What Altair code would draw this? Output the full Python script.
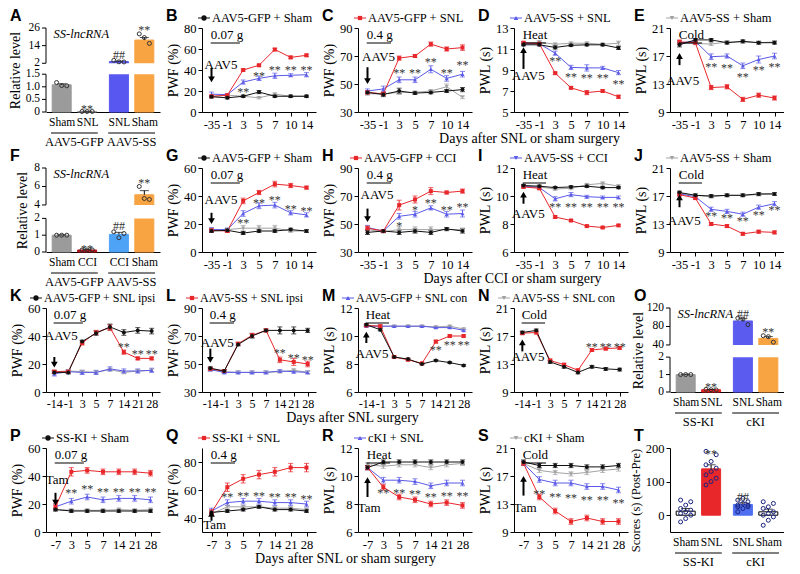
import altair as alt
import pandas as pd

SERIF = "Liberation Serif"
SANS = "Liberation Sans"
W, H = 114, 84

# ---------------- x categories ----------------
DAYS_AAV = ["-35", "-1", "3", "5", "7", "10", "14"]
DAYS_IPSI = ["-14", "-1", "3", "5", "7", "14", "21", "28"]
DAYS_TAM = ["-7", "3", "5", "7", "14", "21", "28"]

# series keys: k = black, r = red, b = blue, g = gray
ROW1_NAMES = {"k": "AAV5-GFP + Sham", "r": "AAV5-GFP + SNL", "b": "AAV5-SS + SNL", "g": "AAV5-SS + Sham"}
ROW2_NAMES = {"k": "AAV5-GFP + Sham", "r": "AAV5-GFP + CCI", "b": "AAV5-SS + CCI", "g": "AAV5-SS + Sham"}
ROW3_NAMES = {"k": "AAV5-GFP + SNL ipsi", "r": "AAV5-SS + SNL ipsi", "b": "AAV5-GFP + SNL con", "g": "AAV5-SS + SNL con"}
ROW4_NAMES = {"k": "SS-KI + Sham", "r": "SS-KI + SNL", "b": "cKI + SNL", "g": "cKI + Sham"}

# ---------------- panel B ----------------
B_mean = {"k": [14.5, 13.5, 15, 19, 15, 15, 15], "r": [15, 16, 40, 44.5, 59.5, 52, 54],
          "b": [17, 16.5, 28.5, 32, 34.5, 35, 35.5], "g": [14.5, 16, 15, 13.5, 17, 15, 15]}
B_sem = {"k": [1, 1, 1, 1.5, 1, 1, 1], "r": [1, 1, 1, 1, 1.2, 1.2, 1.2],
         "b": [2, 1, 2, 2, 2.5, 1.5, 2], "g": [1, 1, 1, 1, 1, 1, 1]}
B_stars = [(2, 22, "**"), (3, 37, "**"), (4, 43, "**"), (5, 43, "**"), (6, 43, "**")]
# ---------------- panel C ----------------
C_mean = {"k": [44, 42.5, 45, 43.5, 44, 45, 46], "r": [44, 43, 68.5, 70, 78.5, 75, 76],
          "b": [45, 46.5, 53, 53, 60.5, 54, 57], "g": [43, 43, 44, 44, 45, 48, 40.5]}
C_sem = {"k": [1, 1.5, 2, 1, 1, 1, 1.5], "r": [1, 1, 1.5, 1, 1.5, 1.5, 2],
         "b": [1.5, 2, 2, 2, 2.5, 2, 2], "g": [1, 1, 1, 1, 1, 2, 1]}
C_stars = [(2, 60, "**"), (3, 60, "**"), (4, 68, "**"), (5, 60, "**"), (6, 66, "**")]
# ---------------- panel D ----------------
D_mean = {"k": [11.4, 11.4, 11.15, 11.35, 11.4, 11.4, 11.1], "r": [11.6, 11.5, 8.7, 7.3, 6.85, 7.0, 6.45],
          "b": [11.5, 11.5, 10.6, 9.25, 9.2, 9.2, 8.75], "g": [11.55, 11.65, 11.45, 11.55, 11.55, 11.45, 11.55]}
D_sem = {"k": [0.1, 0.1, 0.15, 0.1, 0.1, 0.1, 0.15], "r": [0.1, 0.1, 0.1, 0.1, 0.2, 0.1, 0.15],
         "b": [0.15, 0.15, 0.2, 0.2, 0.3, 0.15, 0.2], "g": [0.1, 0.15, 0.1, 0.1, 0.1, 0.1, 0.2]}
D_stars = [(2, 10.1, "**"), (3, 8.6, "**"), (4, 8.5, "**"), (5, 8.5, "**"), (6, 8.0, "**")]
# ---------------- panel E ----------------
E_mean = {"k": [18.6, 19.3, 19.3, 18.9, 19.1, 18.9, 18.9], "r": [19.0, 18.9, 12.5, 12.6, 10.8, 11.4, 11.0],
          "b": [18.9, 19.1, 16.9, 17.0, 15.6, 16.5, 17.0], "g": [18.9, 18.8, 18.7, 19.0, 19.0, 18.9, 19.0]}
E_sem = {"k": [0.3, 0.2, 0.2, 0.2, 0.2, 0.2, 0.2], "r": [0.3, 0.2, 0.3, 0.3, 0.3, 0.3, 0.3],
         "b": [0.3, 0.3, 0.4, 0.3, 0.4, 0.5, 0.4], "g": [0.2, 0.2, 0.2, 0.2, 0.2, 0.2, 0.2]}
E_stars = [(2, 15.8, "**"), (3, 15.7, "**"), (4, 14.5, "**"), (5, 15.4, "**"), (6, 15.8, "**")]
# ---------------- panel G ----------------
G_mean = {"k": [15, 15.5, 13.5, 15, 15, 16, 15], "r": [15.5, 15, 36.5, 42.5, 48.5, 47.5, 46],
          "b": [16, 16, 27.5, 33, 33.5, 28, 26.5], "g": [16, 16, 17, 17, 17, 15, 15]}
G_sem = {"k": [1, 1, 1, 1, 1, 1, 1], "r": [1, 1, 2, 1.5, 2, 1.5, 1],
         "b": [1.5, 1, 2, 2, 2, 1.5, 1.5], "g": [1, 1, 2, 2, 2, 1, 1]}
G_stars = [(2, 23, "**"), (3, 37, "**"), (4, 39.5, "**"), (5, 33, "**"), (6, 31.5, "**")]
# ---------------- panel H ----------------
H_mean = {"k": [44, 45, 44, 45, 44, 46.5, 45], "r": [47, 45, 63.5, 67.5, 73.5, 72.5, 73.5],
          "b": [47.5, 45, 55.5, 57, 61.5, 57, 57.5], "g": [46, 44.5, 46, 46, 46, 46, 46]}
H_sem = {"k": [1.5, 1, 1.5, 1.5, 1.5, 1, 1.5], "r": [1.5, 1, 3.5, 2.5, 2.5, 1, 1.5],
         "b": [1.5, 1, 2, 2, 1.5, 2, 2.5], "g": [1, 1, 2, 2, 2, 1, 1]}
H_stars = [(2, 51, "*"), (3, 62.5, "*"), (4, 67, "**"), (5, 62.5, "**"), (6, 64, "**")]
# ---------------- panel I ----------------
I_mean = {"k": [10.75, 10.7, 10.6, 10.65, 10.7, 10.6, 10.6], "r": [10.65, 10.55, 8.5, 8.25, 7.85, 7.75, 7.9],
          "b": [10.7, 10.6, 9.8, 10.1, 9.95, 9.9, 9.9], "g": [10.7, 10.65, 10.5, 10.55, 10.8, 10.9, 10.7]}
I_sem = {"k": [0.08, 0.08, 0.08, 0.08, 0.08, 0.08, 0.08], "r": [0.08, 0.08, 0.08, 0.06, 0.06, 0.06, 0.06],
         "b": [0.1, 0.1, 0.15, 0.15, 0.1, 0.1, 0.1], "g": [0.08, 0.08, 0.1, 0.1, 0.1, 0.1, 0.1]}
I_stars = [(2, 9.45, "**"), (3, 9.45, "**"), (4, 9.45, "**"), (5, 9.45, "**"), (6, 9.45, "**")]
# ---------------- panel J ----------------
J_mean = {"k": [17.5, 17.1, 17.0, 17.1, 17.1, 17.3, 17.3], "r": [17.2, 16.7, 13.0, 12.7, 11.6, 11.9, 11.8],
          "b": [17.3, 16.9, 15.1, 14.8, 14.4, 15.4, 15.9], "g": [17.4, 17.1, 16.9, 17.1, 17.1, 17.2, 17.3]}
J_sem = {"k": [0.2, 0.2, 0.2, 0.2, 0.2, 0.2, 0.2], "r": [0.2, 0.2, 0.2, 0.2, 0.2, 0.2, 0.2],
         "b": [0.2, 0.2, 0.3, 0.3, 0.3, 0.3, 0.3], "g": [0.2, 0.2, 0.2, 0.2, 0.2, 0.2, 0.2]}
J_stars = [(2, 14.6, "**"), (3, 14.3, "**"), (4, 13.9, "**"), (5, 14.7, "**"), (6, 15.5, "**")]
# ---------------- panel K ----------------
K_mean = {"k": [14, 14, 36, 42, 46.5, 42.5, 44, 43.5], "r": [14.5, 14.5, 35, 42.5, 46, 28.5, 24, 24],
          "b": [13, 14.5, 14, 14, 16.5, 15, 15, 15.5], "g": [14.5, 15, 14.5, 14, 16, 14, 15, 15.5]}
K_sem = {"k": [1, 1, 1, 1.5, 2, 2, 2, 2], "r": [1, 1, 1.5, 1.5, 2, 1.5, 1, 1],
         "b": [1.5, 1.5, 1.5, 1.5, 1.5, 1.5, 1.5, 1.5], "g": [1, 1, 1, 1, 1, 1, 1, 1]}
K_stars = [(5, 34, "**"), (6, 29, "**"), (7, 29, "**")]
# ---------------- panel L ----------------
L_mean = {"k": [47, 45, 64, 70, 74, 74, 74, 74], "r": [46.5, 45, 64.5, 70.5, 74, 53, 51.5, 50],
          "b": [46, 44, 44, 44, 44, 45, 44.5, 44], "g": [46, 44.5, 44, 44, 44, 44.5, 45.5, 44]}
L_sem = {"k": [1, 1, 1, 1.5, 1, 2.5, 2.5, 1.5], "r": [1, 1, 1, 1.5, 1, 2, 2.5, 2],
         "b": [1, 1, 1, 1, 1, 1, 1, 1], "g": [1, 1, 1, 1, 1, 1, 1, 1]}
L_stars = [(5, 60, "**"), (6, 56.5, "**"), (7, 55, "**")]
# ---------------- panel M ----------------
M_mean = {"k": [10.8, 10.45, 8.5, 8.35, 8.0, 8.25, 8.1, 7.9], "r": [10.75, 10.7, 8.5, 8.3, 8.05, 9.6, 10.0, 10.0],
          "b": [10.7, 10.7, 10.7, 10.7, 10.7, 10.6, 10.6, 10.4], "g": [10.75, 10.7, 10.7, 10.7, 10.7, 10.65, 10.7, 10.5]}
M_sem = {"k": [0.08, 0.08, 0.06, 0.06, 0.06, 0.06, 0.06, 0.06], "r": [0.08, 0.08, 0.06, 0.06, 0.06, 0.1, 0.08, 0.08],
         "b": [0.06, 0.06, 0.06, 0.06, 0.06, 0.06, 0.06, 0.06], "g": [0.06, 0.06, 0.06, 0.06, 0.06, 0.06, 0.06, 0.06]}
M_stars = [(5, 9.2, "**"), (6, 9.55, "**"), (7, 9.55, "**")]
# ---------------- panel N ----------------
N_mean = {"k": [17.5, 17.8, 13.3, 12.6, 11.8, 12.6, 12.3, 12.2], "r": [17.4, 17.5, 13.5, 12.9, 12.1, 15.0, 15.2, 15.3]}
N_sem = {"k": [0.2, 0.2, 0.2, 0.2, 0.2, 0.2, 0.2, 0.2], "r": [0.2, 0.2, 0.2, 0.2, 0.2, 0.2, 0.2, 0.2]}
N_stars = [(5, 15.9, "**"), (6, 15.9, "**"), (7, 15.9, "**")]
# ---------------- panel P ----------------
P_mean = {"k": [16, 15, 15, 15, 15, 15, 15], "r": [18, 43, 44, 43, 43, 43, 42],
          "b": [18, 22, 25, 23, 24, 24, 23], "g": [16, 15.5, 15.5, 15.5, 16, 15.5, 16]}
P_sem = {"k": [1, 1, 1, 1, 1, 1, 1], "r": [2, 3, 2, 2, 2, 2, 2],
         "b": [2, 2, 2, 2, 2, 2, 2], "g": [1, 1, 1, 1, 1, 1, 1]}
P_stars = [(1, 30, "**"), (2, 33, "**"), (3, 31, "**"), (4, 31, "**"), (5, 31, "**"), (6, 31, "**")]
# ---------------- panel Q ----------------
Q_mean = {"k": [44, 45, 46, 48, 46, 46, 45], "r": [44, 62, 68, 71, 73, 76, 76],
          "b": [45, 51, 52, 52, 51, 51, 50], "g": [43, 48, 48, 48, 47, 47, 46]}
Q_sem = {"k": [1, 1, 1, 1, 1, 1, 1], "r": [2, 3, 3, 3, 3, 3, 3],
         "b": [2, 2, 2, 2, 2, 2, 2], "g": [1, 1, 1, 1, 1, 1, 1]}
Q_stars = [(1, 57, "**"), (2, 58, "**"), (3, 58, "**"), (4, 57, "**"), (5, 57, "**"), (6, 56, "**")]
# ---------------- panel R ----------------
R_mean = {"k": [10.6, 11, 11, 11, 11, 11, 11], "r": [10.6, 9.2, 8.5, 8.3, 8.0, 8.1, 7.9],
          "b": [10.6, 9.7, 9.7, 9.6, 9.3, 9.5, 9.5], "g": [10.8, 10.7, 10.8, 10.8, 10.6, 10.8, 10.9]}
R_sem = {"k": [0.15, 0.15, 0.15, 0.15, 0.15, 0.15, 0.15], "r": [0.15, 0.2, 0.2, 0.2, 0.2, 0.2, 0.2],
         "b": [0.15, 0.2, 0.2, 0.2, 0.2, 0.2, 0.2], "g": [0.15, 0.15, 0.15, 0.15, 0.15, 0.15, 0.15]}
R_stars = [(1, 9.0, "**"), (2, 9.0, "**"), (3, 8.9, "**"), (4, 8.7, "**"), (5, 8.8, "**"), (6, 8.8, "**")]
# ---------------- panel S ----------------
S_mean = {"k": [19, 18.5, 18.5, 18.5, 18.3, 18.3, 18.5], "r": [18.8, 14, 12, 10.5, 11, 10.5, 10.5],
          "b": [18.8, 16.5, 16, 16, 15.5, 15.5, 15], "g": [18.8, 17.8, 17.5, 17.3, 17.5, 17.8, 18]}
S_sem = {"k": [0.3, 0.3, 0.3, 0.3, 0.3, 0.3, 0.3], "r": [0.3, 0.4, 0.4, 0.4, 0.4, 0.4, 0.4],
         "b": [0.3, 0.4, 0.4, 0.4, 0.4, 0.4, 0.4], "g": [0.3, 0.3, 0.3, 0.3, 0.3, 0.3, 0.3]}
S_stars = [(1, 14.8, "**"), (2, 14.5, "**"), (3, 14.3, "**"), (4, 14.0, "**"), (5, 14.0, "**"), (6, 13.6, "**")]

# ---------------- bar panels ----------------
A_labels = ["Sham", "SNL", "SNL", "Sham"]
A_groups = ["AAV5-GFP", "AAV5-GFP", "AAV5-SS", "AAV5-SS"]
A_mean = [1.08, 0.02, 3.2, 17.8]
A_sem = [0.04, 0.01, 0.3, 1.7]
A_pts = [[1.17, 1.05, 1.04], [0.02, 0.02, 0.02], [4.0, 3.0, 2.9], [22, 19.5, 15.5]]
A_stars = [(1, 0.25, "**"), (2, 10, "##"), (3, 27, "**")]
A_yticks = [0, 0.5, 1, 1.5, 2, 14, 26]
A_ylabels = ["0", "0.5", "1.0", "1.5", "2", "14", "26"]

F_labels = ["Sham", "CCI", "CCI", "Sham"]
F_groups = ["AAV5-GFP", "AAV5-GFP", "AAV5-SS", "AAV5-SS"]
F_mean = [1.0, 0.12, 1.05, 5.1]
F_sem = [0.02, 0.02, 0.12, 0.45]
F_pts = [[1.0, 1.0, 1.0], [0.12, 0.12, 0.13], [1.2, 0.85, 1.1], [6.0, 4.7, 4.6]]
F_stars = [(1, 0.38, "**"), (2, 1.72, "##"), (3, 6.7, "**")]
F_yticks = [0, 1, 2, 4, 6, 8]
F_ylabels = ["0", "1", "2", "4", "6", "8"]

O_labels = ["Sham", "SNL", "SNL", "Sham"]
O_groups = ["SS-KI", "SS-KI", "cKI", "cKI"]
O_mean = [1.0, 0.13, 92, 54]
O_sem = [0.02, 0.02, 5, 4]
O_pts = [[1.0, 1.0, 1.0], [0.15, 0.13, 0.12], [98, 96, 84], [60, 58, 46]]
O_stars = [(1, 0.45, "**"), (2, 114, "##"), (3, 75, "**")]
O_yticks = [0, 1, 2, 40, 80, 120]
O_ylabels = ["0", "1", "2", "40", "80", "120"]

T_labels = ["Sham", "SNL", "SNL", "Sham"]
T_groups = ["SS-KI", "SS-KI", "cKI", "cKI"]
T_mean = [12, 138, 32, 10]
T_sem = [8, 12, 5, 8]
T_pts = [[-20, -10, 0, 5, 10, 15, 20, 30, 40, 45], [90, 100, 110, 120, 130, 140, 150, 160, 180, 190],
         [10, 20, 25, 30, 35, 40, 45, 50, 30, 25], [-30, -15, -5, 0, 5, 10, 20, 25, 35, 40]]
T_stars = [(1, 190, "**"), (2, 62, "##")]

# ---------------- styling ----------------
ORDER = ["g", "b", "r", "k"]
COL = {"k": "#111111", "r": "#e8272b", "b": "#5b5be8", "g": "#a3a3a3"}
SIZE = {"k": 22, "r": 12, "b": 16, "g": 16}
TEXT_W = {"0.07 g": 30, "0.4 g": 25, "Heat": 24, "Cold": 24}


def letter_layer(letter):
    return alt.Chart(pd.DataFrame({"t": [letter]})).mark_text(
        align="left", baseline="middle", font=SANS, fontWeight="bold", fontSize=16, color="black"
    ).encode(x=alt.value(-36), y=alt.value(-12), text="t:N")


def line_panel(c):
    days = c["days"]
    n = len(days)
    lo, hi = c["ylim"]
    yr = hi - lo
    xs = alt.Scale(domain=[-0.6, n - 0.4], nice=False, zero=False)
    ys = alt.Scale(domain=[lo, hi], nice=False, zero=False)
    lab = "[" + ",".join("'%s'" % d for d in days) + "][datum.value]"
    xkw = dict(values=list(range(n)), labelExpr=lab, title=c.get("xtitle"),
               labelFontSize=12 if n > 7 else 12.5)
    if "xtitle" in c:
        xkw["titleX"] = c["xtitle_x"]
        xkw["titlePadding"] = 1
    xax = alt.Axis(**xkw)
    yax = alt.Axis(values=c["yticks"], title=c["ytitle"])

    def X(f="x"):
        return alt.X(f + ":Q", scale=xs, axis=xax)

    def Y(f="y"):
        return alt.Y(f + ":Q", scale=ys, axis=yax)

    keys = [s for s in ORDER if s in c["mean"]]
    pts, err, caps = [], [], []
    for s in keys:
        for i, (m, e) in enumerate(zip(c["mean"][s], c["sem"][s])):
            pts.append({"s": s, "x": i, "y": m})
            err.append({"s": s, "x": i, "y": m - e, "y2": m + e})
            caps.append({"s": s, "x": i, "y": m + e})
            caps.append({"s": s, "x": i, "y": m - e})
    shapes = {"k": "circle", "r": "square", "b": c.get("bshape", "triangle-up"), "g": "triangle-down"}
    color = alt.Color("s:N", scale=alt.Scale(domain=keys, range=[COL[s] for s in keys]), legend=None)
    shape = alt.Shape("s:N", scale=alt.Scale(domain=keys, range=[shapes[s] for s in keys]), legend=None)
    size = alt.Size("s:N", scale=alt.Scale(domain=keys, range=[SIZE[s] for s in keys]), legend=None)
    dfp = pd.DataFrame(pts)

    layers = [
        alt.Chart(pd.DataFrame(err)).mark_rule(strokeWidth=1).encode(x=X(), y=Y(), y2="y2:Q", color=color),
        alt.Chart(pd.DataFrame(caps)).mark_tick(orient="horizontal", size=5, thickness=1).encode(x=X(), y=Y(), color=color),
        alt.Chart(dfp).mark_line(strokeWidth=1).encode(x=X(), y=Y(), color=color),
        alt.Chart(dfp).mark_point(filled=True, opacity=1).encode(x=X(), y=Y(), color=color, shape=shape, size=size),
    ]
    st = pd.DataFrame([{"x": a, "y": b, "t": t} for a, b, t in c["stars"]])
    layers.append(alt.Chart(st).mark_text(font=SERIF, fontSize=12, color="#333333", baseline="middle", dy=3)
                  .encode(x=X(), y=Y(), text="t:N"))
    # stimulus label, underlined
    x0 = -0.05
    span = TEXT_W[c["cond"]] * n / W
    yul = hi - 15.0 / H * yr
    cd = pd.DataFrame({"x": [x0], "x2": [x0 + span], "y": [yul], "t": [c["cond"]]})
    layers.append(alt.Chart(cd).mark_text(font=SERIF, fontSize=13, align="left", baseline="bottom", dy=-1, color="black")
                  .encode(x=X(), y=Y(), text="t:N"))
    layers.append(alt.Chart(cd).mark_rule(color="black", strokeWidth=1).encode(x=X(), x2="x2:Q", y=Y()))
    # injection label and arrow
    ag = pd.DataFrame({"x": [c["agent_x"]], "y": [c["agent_y"]], "t": [c["agent"]]})
    layers.append(alt.Chart(ag).mark_text(font=SERIF, fontSize=13, baseline="middle", color="black")
                  .encode(x=X(), y=Y(), text="t:N"))
    tail, head = c["arrow"]
    ar = pd.DataFrame({"x": [0], "y": [tail], "y2": [head]})
    layers.append(alt.Chart(ar).mark_rule(color="black", strokeWidth=2).encode(x=X(), y=Y(), y2="y2:Q"))
    hd = pd.DataFrame({"x": [0], "y": [head]})
    layers.append(alt.Chart(hd).mark_point(filled=True, opacity=1, color="black", size=45,
                                           shape="triangle-down" if head < tail else "triangle-up")
                  .encode(x=X(), y=Y()))
    # single-entry legend
    k = c["leg"]
    lx = c.get("legx", 2)
    lfs = c.get("legfs", 12.5)
    lg = pd.DataFrame({"t": [c["names"][k]]})
    layers.append(alt.Chart(lg).mark_rule(color=COL[k], strokeWidth=1)
                  .encode(x=alt.value(lx - 6), x2=alt.value(lx + 6), y=alt.value(-10)))
    layers.append(alt.Chart(lg).mark_point(filled=True, opacity=1, color=COL[k], size=SIZE[k] + 6, shape=shapes[k])
                  .encode(x=alt.value(lx), y=alt.value(-10)))
    layers.append(alt.Chart(lg).mark_text(font=SERIF, fontSize=lfs, align="left", baseline="middle", color="black")
                  .encode(x=alt.value(lx + 8), y=alt.value(-10), text="t:N"))
    layers.append(letter_layer(c["letter"]))
    return alt.layer(*layers).properties(width=W, height=H)


def bar_panel(c):
    labels, groups = c["labels"], c["groups"]
    gorder = list(dict.fromkeys(groups))
    pos = [i + 0.25 * gorder.index(g) for i, g in enumerate(groups)]
    xs = alt.Scale(domain=[-0.42, pos[-1] + 0.42], nice=False, zero=False)
    lab = ("[" + ",".join("'%s'" % l for l in labels) + "][indexof([" +
           ",".join("%g" % p for p in pos) + "], datum.value)]")
    xax = alt.Axis(values=pos, labelExpr=lab, ticks=False, title=None, labelPadding=4, labelFontSize=11.5)
    dom = c["ydom"]
    broken = "yfrac" in c
    if broken:
        ys = alt.Scale(type="linear", domain=dom, range=[H * f for f in c["yfrac"]], nice=False, zero=False)
        yax = alt.Axis(values=c["yticks"], labels=False, ticks=False, domain=False, title=c["ytitle"],
                       titlePadding=c["tpad"])
    else:
        ys = alt.Scale(domain=dom, nice=False, zero=False)
        yax = alt.Axis(values=c["yticks"], title=c["ytitle"], titleFontSize=12.5, titleY=c.get("titley", H / 2))

    def X(f="x"):
        return alt.X(f + ":Q", scale=xs, axis=xax)

    def Y(f="y"):
        return alt.Y(f + ":Q", scale=ys, axis=yax)

    bars = pd.DataFrame({"x": pos, "y": c["mean"], "y2": [0] * len(pos), "f": c["fill"], "st": c["stroke"]})
    layers = [alt.Chart(bars).mark_bar(size=19, strokeWidth=1)
              .encode(x=X(), y=Y(), y2="y2:Q", fill=alt.Fill("f:N", scale=None), stroke=alt.Stroke("st:N", scale=None))]
    if broken:
        band = pd.DataFrame({"y": [dom[1]], "y2": [dom[2]]})
        layers.append(alt.Chart(band).mark_rect(fill="white")
                      .encode(x=alt.value(1), x2=alt.value(W), y=Y(), y2="y2:Q"))
        seg = pd.DataFrame({"y": [dom[0], dom[2]], "y2": [dom[1], dom[3]]})
        layers.append(alt.Chart(seg).mark_rule(color="black", strokeWidth=1)
                      .encode(x=alt.value(0), y=Y(), y2="y2:Q"))
        tk = pd.DataFrame({"y": c["yticks"], "t": c["ylabels"]})
        layers.append(alt.Chart(tk).mark_rule(color="black", strokeWidth=1)
                      .encode(x=alt.value(-4), x2=alt.value(0), y=Y()))
        layers.append(alt.Chart(tk).mark_text(font=SERIF, fontSize=11.5, align="right", baseline="middle",
                                              color="black")
                      .encode(x=alt.value(-6), y=Y(), text="t:N"))
    eb = pd.DataFrame({"x": pos, "y": c["mean"], "y2": [m + e for m, e in zip(c["mean"], c["sem"])]})
    layers.append(alt.Chart(eb).mark_rule(color="black", strokeWidth=1).encode(x=X(), y=Y(), y2="y2:Q"))
    cp = pd.DataFrame({"x": pos, "y": [m + e for m, e in zip(c["mean"], c["sem"])]})
    layers.append(alt.Chart(cp).mark_tick(orient="horizontal", size=9, thickness=1, color="black")
                  .encode(x=X(), y=Y()))
    pr = []
    for p, vals in zip(pos, c["pts"]):
        m = len(vals)
        for k, v in enumerate(vals):
            off = ((k % 3) - 1) * 0.2 if m > 3 else (k - 1) * 0.2
            pr.append({"x": p + off, "y": v})
    layers.append(alt.Chart(pd.DataFrame(pr)).mark_point(shape="circle", filled=False, size=16, strokeWidth=1,
                                                         color=c.get("ptcol", "#333333"), opacity=1)
                  .encode(x=X(), y=Y()))
    st = pd.DataFrame([{"x": pos[a], "y": b, "t": t} for a, b, t in c["stars"]])
    layers.append(alt.Chart(st).mark_text(font=SERIF, fontSize=12, color="#333333", baseline="middle", dy=3)
                  .encode(x=X(), y=Y(), text="t:N"))
    if c.get("gene"):
        gt = pd.DataFrame({"x": [-0.32], "y": [dom[-1]], "t": [c["gene"]]})
        layers.append(alt.Chart(gt).mark_text(font=SERIF, fontSize=12.5, fontStyle="italic", align="left",
                                              baseline="top", color="black")
                      .encode(x=X(), y=Y(), text="t:N"))
    gx = [sum(p for p, g in zip(pos, groups) if g == G) / groups.count(G) for G in gorder]
    g0 = [min(p for p, g in zip(pos, groups) if g == G) - 0.42 for G in gorder]
    g1 = [max(p for p, g in zip(pos, groups) if g == G) + 0.42 for G in gorder]
    gd = pd.DataFrame({"x": gx, "t": gorder})
    layers.append(alt.Chart(gd).mark_text(font=SERIF, fontSize=12.5, baseline="middle", color="black")
                  .encode(x=X(), y=alt.value(H + 30), text="t:N"))
    gl = pd.DataFrame({"x": g0, "x2": g1})
    layers.append(alt.Chart(gl).mark_rule(color="black", strokeWidth=1)
                  .encode(x=X(), x2="x2:Q", y=alt.value(H + 21)))
    layers.append(letter_layer(c["letter"]))
    return alt.layer(*layers).properties(width=W, height=H)


def lc(letter, leg, names, days, mean, sem, ylim, yticks, ytitle, cond, agent, agent_xy, arrow, stars, **kw):
    d = dict(letter=letter, leg=leg, names=names, days=days, mean=mean, sem=sem, ylim=ylim, yticks=yticks,
             ytitle=ytitle, cond=cond, agent=agent, agent_x=agent_xy[0], agent_y=agent_xy[1], arrow=arrow,
             stars=stars)
    d.update(kw)
    return line_panel(d)


PWF, PWL = "PWF (%)", "PWL (s)"
A = bar_panel(dict(letter="A", labels=A_labels, groups=A_groups, mean=A_mean, sem=A_sem, pts=A_pts, stars=A_stars,
                   fill=["#9b9b9b", "#9b9b9b", "#5858f0", "#f8a443"], stroke=["#9b9b9b", "#9b9b9b", "#5858f0", "#f8a443"],
                   ydom=[0, 1.5, 2, 26], yfrac=[1, 0.55, 0.42, 0], yticks=A_yticks, ylabels=A_ylabels, tpad=24,
                   ytitle="Relative  level", gene="SS-lncRNA"))
F = bar_panel(dict(letter="F", labels=F_labels, groups=F_groups, mean=F_mean, sem=F_sem, pts=F_pts, stars=F_stars,
                   fill=["#9b9b9b", "#b5121b", "#4fa3f7", "#f8a443"], stroke=["#9b9b9b", "#b5121b", "#4fa3f7", "#f8a443"],
                   ydom=[0, 2, 4, 8], yfrac=[1, 0.6, 0.44, 0], yticks=F_yticks, ylabels=F_ylabels, tpad=17,
                   ytitle="Relative  level", gene="SS-lncRNA"))
O = bar_panel(dict(letter="O", labels=O_labels, groups=O_groups, mean=O_mean, sem=O_sem, pts=O_pts, stars=O_stars,
                   fill=["#9b9b9b", "#e3231f", "#5b5bef", "#f8a443"], stroke=["#9b9b9b", "#e3231f", "#5b5bef", "#f8a443"],
                   ydom=[0, 2, 40, 120], yfrac=[1, 0.585, 0.44, 0], yticks=O_yticks, ylabels=O_ylabels, tpad=25,
                   ytitle="Relative  level", gene="SS-lncRNA"))
T = bar_panel(dict(letter="T", labels=T_labels, groups=T_groups, mean=T_mean, sem=T_sem, pts=T_pts, stars=T_stars,
                   fill=["white", "#e8272b", "#4f6ef0", "white"], stroke=["black", "#e8272b", "#4f6ef0", "black"],
                   ydom=[-50, 200], yticks=[0, 100, 200], ytitle="Scores (s) (Post-Pre)", ptcol="#1a237e",
                   titley=52))

Bp = lc("B", "k", ROW1_NAMES, DAYS_AAV, B_mean, B_sem, [0, 80], [0, 20, 40, 60, 80], PWF, "0.07 g", "AAV5", (0.6, 45), (42, 31), B_stars)
Cp = lc("C", "r", ROW1_NAMES, DAYS_AAV, C_mean, C_sem, [30, 90], [30, 50, 70, 90], PWF, "0.4 g", "AAV5", (0.7, 69), (62, 52), C_stars,
        xtitle="Days after SNL or sham surgery", xtitle_x=171)
Dp = lc("D", "b", ROW1_NAMES, DAYS_AAV, D_mean, D_sem, [5, 13], [5, 7, 9, 11, 13], PWL, "Heat", "AAV5", (0.3, 8.4), (9.1, 10.9), D_stars)
Ep = lc("E", "g", ROW1_NAMES, DAYS_AAV, E_mean, E_sem, [9, 21], [9, 13, 17, 21], PWL, "Cold", "AAV5", (0.2, 13.4), (15.7, 17.0), E_stars)

Gp = lc("G", "k", ROW2_NAMES, DAYS_AAV, G_mean, G_sem, [0, 60], [0, 20, 40, 60], PWF, "0.07 g", "AAV5", (0.6, 37), (28, 22), G_stars, bshape="triangle-down")
Hp = lc("H", "r", ROW2_NAMES, DAYS_AAV, H_mean, H_sem, [30, 90], [30, 50, 70, 90], PWF, "0.4 g", "AAV5", (0.6, 70.5), (61, 53.5), H_stars, bshape="triangle-down",
        xtitle="Days after CCI or sham surgery", xtitle_x=154, legx=-2)
Ip = lc("I", "b", ROW2_NAMES, DAYS_AAV, I_mean, I_sem, [6, 12], [6, 8, 10, 12], PWL, "Heat", "AAV5", (0.3, 8.75), (9.45, 10.1), I_stars, bshape="triangle-down")
Jp = lc("J", "g", ROW2_NAMES, DAYS_AAV, J_mean, J_sem, [9, 21], [9, 13, 17, 21], PWL, "Cold", "AAV5", (0.3, 13.4), (15.4, 16.8), J_stars, bshape="triangle-down")

Kp = lc("K", "k", ROW3_NAMES, DAYS_IPSI, K_mean, K_sem, [0, 60], [0, 20, 40, 60], PWF, "0.07 g", "AAV5", (0.5, 39.7), (25, 19.5), K_stars, legx=-10, legfs=12)
Lp = lc("L", "r", ROW3_NAMES, DAYS_IPSI, L_mean, L_sem, [30, 90], [30, 50, 70, 90], PWF, "0.4 g", "AAV5", (0.5, 65), (61, 53), L_stars, legx=-10, legfs=12)
Mp = lc("M", "b", ROW3_NAMES, DAYS_IPSI, M_mean, M_sem, [6, 12], [6, 8, 10, 12], PWL, "Heat", "AAV5", (0.4, 8.7), (9.5, 10.1), M_stars, legx=-10, legfs=12,
        xtitle="Days after SNL surgery", xtitle_x=-6)
Np = lc("N", "g", ROW3_NAMES, DAYS_IPSI, N_mean, N_sem, [9, 21], [9, 13, 17, 21], PWL, "Cold", "AAV5", (0.4, 14.0), (14.8, 16.1), N_stars, legx=-10, legfs=12)

Pp = lc("P", "k", ROW4_NAMES, DAYS_TAM, P_mean, P_sem, [0, 60], [0, 20, 40, 60], PWF, "0.07 g", "Tam", (0.1, 37), (28, 21), P_stars)
Qp = lc("Q", "r", ROW4_NAMES, DAYS_TAM, Q_mean, Q_sem, [30, 90], [40, 60, 80], PWF, "0.4 g", "Tam", (0.2, 35), (38, 43), Q_stars)
Rp = lc("R", "b", ROW4_NAMES, DAYS_TAM, R_mean, R_sem, [6, 12], [6, 8, 10, 12], PWL, "Heat", "Tam", (0.1, 7.7), (8.5, 9.7), R_stars,
        xtitle="Days after SNL or sham surgery", xtitle_x=-13)
Sp = lc("S", "g", ROW4_NAMES, DAYS_TAM, S_mean, S_sem, [9, 21], [9, 13, 17, 21], PWL, "Cold", "Tam", (0.1, 12.4), (14.2, 16.6), S_stars)

panels = [A, Bp, Cp, Dp, Ep, F, Gp, Hp, Ip, Jp, Kp, Lp, Mp, Np, O, Pp, Qp, Rp, Sp, T]

chart = alt.concat(*panels, columns=5, spacing={"row": 56, "column": 42}, bounds="flush").properties(
    padding=0
).configure(font=SERIF).configure_axis(
    labelFont=SERIF, titleFont=SERIF, labelFontSize=12.5, titleFontSize=14, titleFontWeight="normal",
    labelColor="black", titleColor="black", domainColor="black", tickColor="black", tickSize=4,
    grid=False, labelPadding=2, titlePadding=3, labelOverlap=False
).configure_view(strokeWidth=0)

chart.save("out.html", embed_options={"renderer": "svg", "actions": False})
